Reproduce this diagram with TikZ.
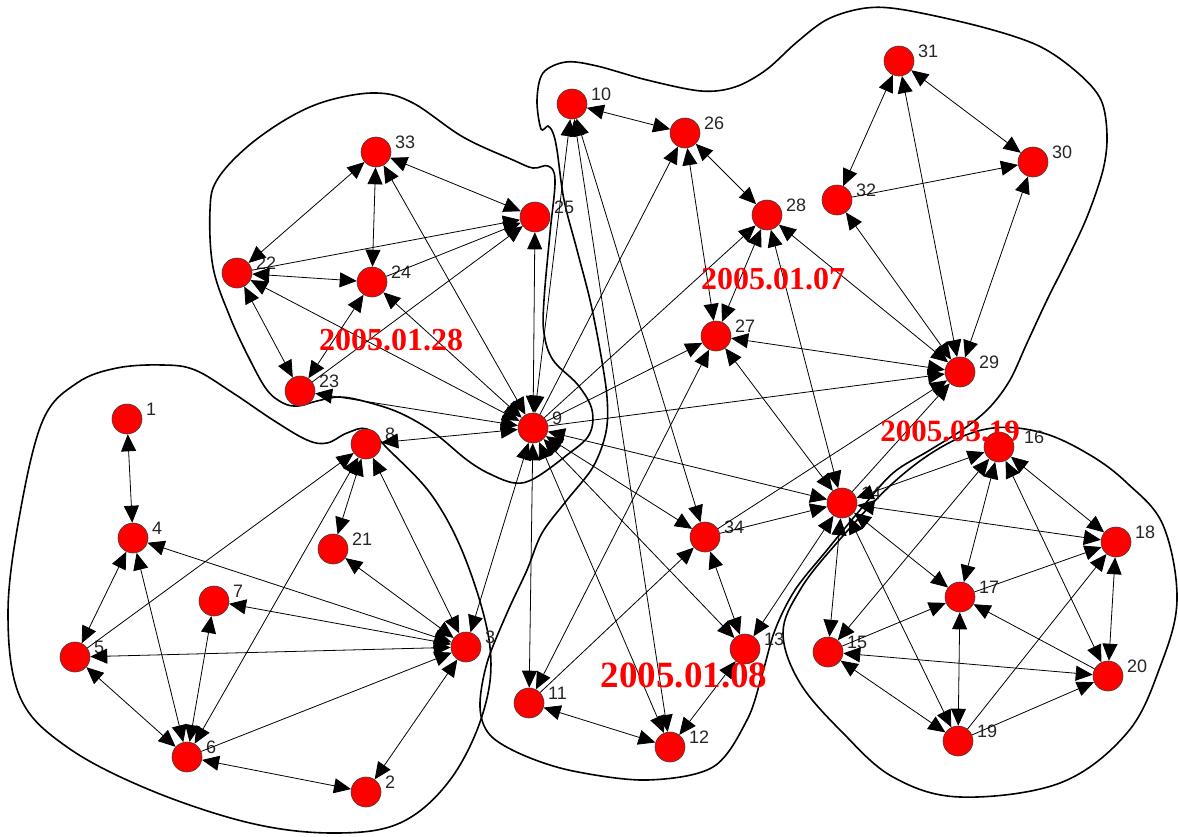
\documentclass[tikz,border=0pt]{standalone}
\usepackage{fontspec}
\newfontfamily\lblfont{Liberation Sans}
\newfontfamily\datefont{Liberation Serif}
\usetikzlibrary{arrows.meta}
\newcommand\vtxat[5]{\node[vx] (n#1) at (#2,#3) {}; \node[lb] (l#1) at (#2+#4,#3-#5) {#1};}
\newcommand\vtx[3]{\vtxat{#1}{#2}{#3}{19}{10}}
\begin{document}
\begin{tikzpicture}[x=1pt,y=-1pt,
  vx/.style={circle,fill=red,draw=black!75,line width=0.6pt,minimum size=30pt,inner sep=0pt},
  lb/.style={anchor=west,inner sep=0pt,font=\lblfont\fontsize{18pt}{18pt}\selectfont,text=black!85},
  e/.style={-{Triangle[length=17pt,width=15pt]},line width=0.8pt},
  ee/.style={{Triangle[length=17pt,width=15pt]}-{Triangle[length=17pt,width=15pt]},line width=0.8pt},
  hull/.style={line width=1.6pt},
  dt/.style={text=red,font=\datefont\bfseries\fontsize{32pt}{32pt}\selectfont,inner sep=0pt}]
\useasboundingbox[fill=white] (0,0) rectangle (1178,836);
% hulls
\draw[hull] plot[smooth cycle,tension=0.6] coordinates {(117,368) (163,365) (195,370) (233,393) (273,420) (307,440) (327,443) (347,433) (367,429) (387,448) (433,497) (467,563) (490,647) (483,713) (450,780) (400,823) (333,833) (250,823) (150,790) (67,747) (20,697) (8,613) (20,513) (43,420) (77,383)};
\draw[hull] plot[smooth cycle,tension=0.6] coordinates {(217,180) (247,147) (290,117) (330,100) (377,93) (413,103) (463,137) (513,160) (533,168) (548,166) (555,180) (550,233) (544,300) (544,333) (553,360) (578,385) (592,410) (589,435) (567,455) (535,478) (515,483) (490,474) (467,460) (433,432) (400,413) (367,402) (340,397) (317,401) (298,406) (283,403) (267,390) (250,360) (230,317) (213,267) (210,210)};
\draw[hull] plot[smooth cycle,tension=0.55] coordinates {(543,73) (566,62) (597,66) (647,80) (701,91) (735,87) (766,70) (797,42) (828,19) (866,8) (905,10) (982,27) (1039,46) (1078,73) (1101,100) (1107,135) (1103,170) (1087,217) (1067,260) (1047,300) (1027,343) (1010,380) (990,407) (965,428) (930,450) (893,473) (860,510) (827,550) (795,590) (775,630) (762,675) (747,720) (713,767) (647,780) (573,771) (523,755) (490,735) (480,707) (487,663) (507,613) (527,570) (542,533) (567,500) (593,467) (606,432) (607,397) (600,350) (590,300) (577,250) (564,200) (557,150) (553,133) (548,126) (541,129) (537,100)};
\draw[hull] plot[smooth cycle,tension=0.6] coordinates {(783,633) (800,590) (835,545) (893,483) (945,445) (993,428) (1043,433) (1090,455) (1127,483) (1163,525) (1177,600) (1160,667) (1127,733) (1060,783) (960,797) (893,777) (843,733) (800,683)};
% nodes
\vtx{1}{127}{419}
\vtx{2}{366}{792}
\vtx{3}{466}{647}
\vtx{4}{133}{538}
\vtx{5}{75}{657}
\vtx{6}{187}{757}
\vtx{7}{214}{601}
\vtx{8}{366}{444}
\vtx{9}{533}{428}
\vtx{10}{572}{104}
\vtx{11}{529}{703}
\vtx{12}{670}{747}
\vtx{13}{745}{649}
\vtx{14}{842}{503}
\vtx{15}{828}{652}
\vtxat{16}{999}{447}{25}{10}
\vtx{17}{960}{597}
\vtx{18}{1116}{542}
\vtx{19}{958}{741}
\vtx{20}{1108}{676}
\vtx{21}{333}{549}
\vtx{22}{237}{273}
\vtx{23}{300}{391}
\vtx{24}{372}{282}
\vtx{25}{535}{217}
\vtx{26}{685}{133}
\vtx{27}{716}{336}
\vtx{28}{767}{215}
\vtx{29}{960}{372}
\vtx{30}{1033}{162}
\vtx{31}{899}{61}
\vtx{32}{837}{200}
\vtx{33}{376}{152}
\vtx{34}{705}{537}
% edges cluster A
\foreach \a/\b in {1/4,4/5,6/4,6/5,6/7,6/8,6/2,3/4,3/7,3/5,3/21,3/8,3/2,8/21}
  \draw[ee] (n\a) -- (n\b);
\foreach \a/\b in {6/3,5/8}
  \draw[e] (n\a) -- (n\b);
% node 9
\foreach \b in {8,3,23,22,24,33,25,10,11,12,13,34,14}
  \draw[ee] (n9) -- (n\b);
\foreach \b in {26,27,28,29}
  \draw[e] (n9) -- (n\b);
% cluster B
\foreach \a/\b in {22/33,33/24,33/25,22/24,22/23,23/24}
  \draw[ee] (n\a) -- (n\b);
\foreach \a/\b in {22/25,23/25,24/25}
  \draw[e] (n\a) -- (n\b);
% cluster C
\foreach \a/\b in {10/26,26/27,26/28,28/27,14/28,14/27,11/27,10/12,10/34,29/32,29/31,29/30,29/28,29/27,31/32,31/30}
  \draw[ee] (n\a) -- (n\b);
\foreach \a/\b in {32/30,34/29,14/29}
  \draw[e] (n\a) -- (n\b);
% cluster D
\foreach \a/\b in {11/12,34/13,13/12,14/13,14/15,14/17,14/19,14/18,16/14,16/17,16/18,16/20,16/15,20/18,19/17,20/15,19/15}
  \draw[ee] (n\a) -- (n\b);
\foreach \a/\b in {11/34,34/14,17/18,19/18,15/17,20/17,19/20}
  \draw[e] (n\a) -- (n\b);
% dates
\node[dt] (d1) at (391,340) {2005.01.28};
\node[dt] (d2) at (773,279) {2005.01.07};
\node[dt,font=\datefont\bfseries\fontsize{31pt}{31pt}\selectfont] (d3) at (950,431) {2005.03.19};
\node[dt,font=\datefont\bfseries\fontsize{37pt}{37pt}\selectfont] (d4) at (684,675) {2005.01.08};
\end{tikzpicture}
\end{document}
